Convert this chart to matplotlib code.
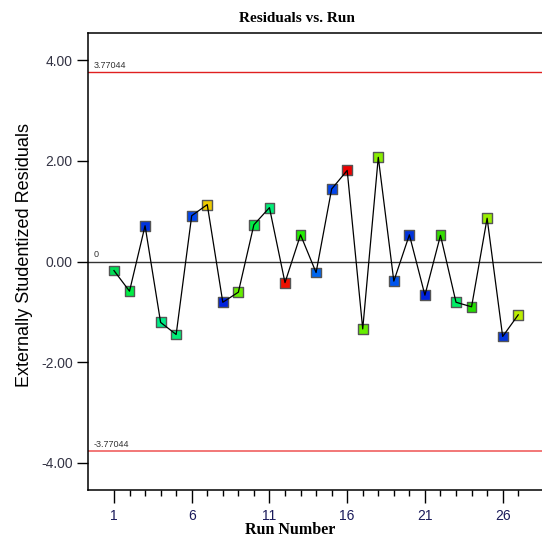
import matplotlib.pyplot as plt
from matplotlib.ticker import FixedLocator, FormatStrFormatter

# run order and externally studentized residuals
runs = list(range(1, 28))
residuals = [-0.18, -0.59, 0.71, -1.21, -1.45, 0.91, 1.13, -0.81, -0.61, 0.73,
             1.07, -0.42, 0.53, -0.22, 1.44, 1.81, -1.34, 2.07, -0.39, 0.53,
             -0.67, 0.52, -0.81, -0.90, 0.86, -1.49, -1.06]
point_colors = ['#00dd55', '#00ee44', '#0033dd', '#00ee88', '#00ee77', '#0044ee',
                '#eecc00', '#0022dd', '#66ee00', '#00ee44', '#00ee77', '#ee1100',
                '#22ee00', '#0066ee', '#0044ee', '#ee0000', '#66ee00', '#88ee00',
                '#0055ee', '#0033dd', '#0022dd', '#33dd00', '#00ee66', '#22dd00',
                '#99ee00', '#0033dd', '#bbee00']
limit = 3.77044

fig = plt.figure(figsize=(5.42, 5.37), dpi=100)
ax = fig.add_axes([88 / 542, 1 - 490 / 537, 1 - 88 / 542, (490 - 33) / 537])

# line on top of the markers, like the original
ax.scatter(runs, residuals, marker='s', s=50, c=point_colors,
           edgecolors='#555555', linewidths=1.0, zorder=3)
ax.plot(runs, residuals, color='black', lw=0.9, zorder=4)

ax.axhline(limit, color='#e02020', lw=1.0, zorder=1)
ax.axhline(-limit, color='#f06060', lw=1.2, zorder=1)
ax.axhline(0, color='#333333', lw=1.0, zorder=1)

ax.text(-0.3, limit + 0.08, '3.77044', fontsize=6.5, family='Liberation Sans', color='#333333')
ax.text(-0.3, -limit + 0.08, '-3.77044', fontsize=6.5, family='Liberation Sans', color='#333333')
ax.text(-0.3, 0.08, '0', fontsize=6.5, family='Liberation Sans', color='#333333')

ax.set_xlim(-0.67, 28.53)
ax.set_ylim(-4.54, 4.54)

ax.xaxis.set_major_locator(FixedLocator([1, 6, 11, 16, 21, 26]))
ax.xaxis.set_minor_locator(FixedLocator(runs))
ax.yaxis.set_major_locator(FixedLocator([-4, -2, 0, 2, 4]))
ax.yaxis.set_major_formatter(FormatStrFormatter('%.2f'))
ax.tick_params(axis='x', which='major', length=9, width=1, labelsize=10, pad=5,
               labelcolor='#1a1a5a')
ax.tick_params(axis='x', which='minor', length=4.5, width=1)
ax.tick_params(axis='y', length=8, width=1, labelsize=10, pad=3, labelcolor='#333344')
for lab in ax.get_xticklabels() + ax.get_yticklabels():
    lab.set_family('Liberation Sans')

ax.spines['right'].set_visible(False)
for s in ['top', 'left', 'bottom']:
    ax.spines[s].set_linewidth(1.1)

fig.text(297 / 542, 1 - 18 / 537, 'Residuals vs. Run', ha='center', va='center',
         fontsize=11, fontweight='bold', family='Liberation Serif')
fig.text(290 / 542, 1 - 530 / 537, 'Run Number', ha='center', va='center',
         fontsize=11.5, fontweight='bold', family='Liberation Serif')
fig.text(25 / 542, 1 - 255 / 537, 'Externally Studentized Residuals', ha='center',
         va='center', rotation=90, fontsize=13, family='Liberation Sans')

fig.savefig('out.png', dpi=100)
